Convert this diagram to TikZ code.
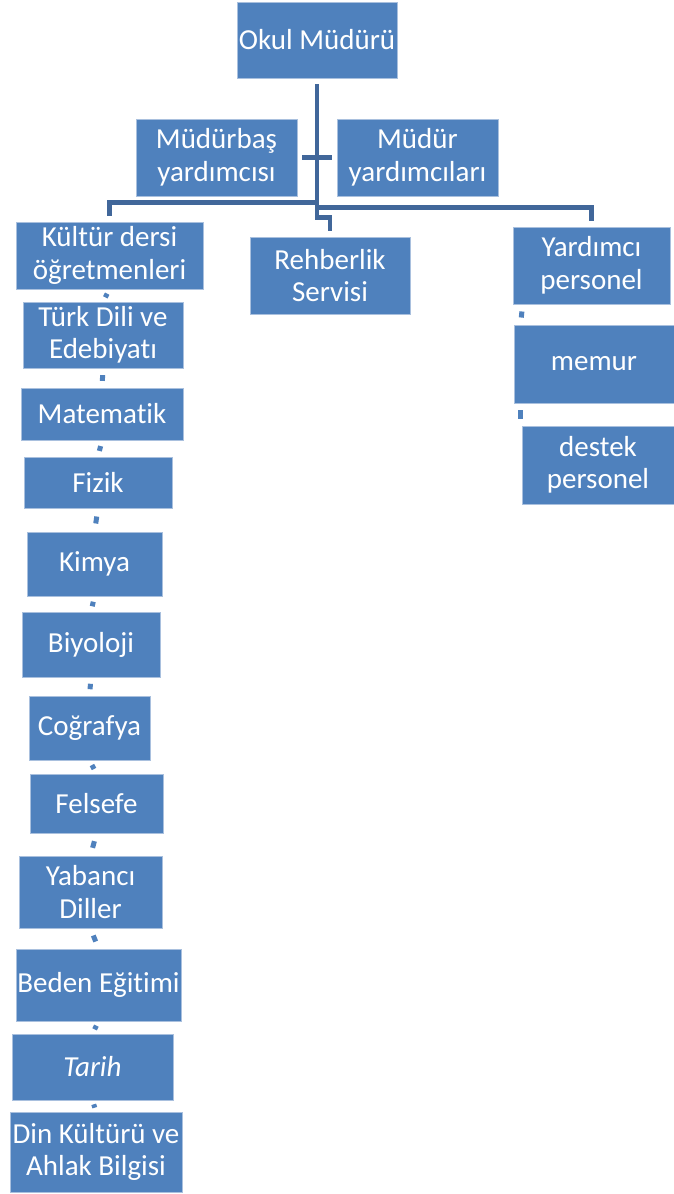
\documentclass[tikz,border=0pt]{standalone}
\usepackage{fontspec}
\setmainfont{Carlito}[Ligatures=NoCommon]
\usetikzlibrary{calc}
\definecolor{boxblue}{HTML}{4F81BD}
\definecolor{lineblue}{HTML}{41679A}
\definecolor{rimblue}{HTML}{A9C0DE}

\begin{document}
\begin{tikzpicture}[x=1pt, y=-1pt,
  bx/.style={draw=rimblue, line width=0.8pt, fill=boxblue, text=white,
             align=center, inner sep=1pt, font=\fontsize{29}{32.5}\selectfont},
  conn/.style={draw=lineblue, line width=4.5pt, shorten <=6pt, shorten >=6pt},
  stub/.style={draw=boxblue, line width=5pt}]
\useasboundingbox (0,0) rectangle (674,1194);
\node[bx, minimum width=160pt, minimum height=76pt] (om) at (317,40) {Okul Müdürü};
\node[bx, minimum width=161pt, minimum height=77pt] (mby) at (216.5,157.5) {Müdürbaş\\yardımcısı};
\node[bx, minimum width=161pt, minimum height=77pt] (my) at (417.5,157.5) {Müdür\\yardımcıları};
\node[bx, minimum width=187pt, minimum height=67pt] (kdo) at (109.5,255.5) {Kültür dersi\\öğretmenleri};
\node[bx, minimum width=160pt, minimum height=77pt] (rs) at (330,275.5) {Rehberlik\\Servisi};
\node[bx, minimum width=157pt, minimum height=77pt] (yp) at (591.5,265.5) {Yardımcı\\personel};
\node[bx, minimum width=160pt, minimum height=78pt] (mem) at (594,364) {memur};
\node[bx, minimum width=152pt, minimum height=78pt] (dp) at (598,465) {destek\\personel};
\node[bx, minimum width=160pt, minimum height=66pt] (tde) at (103,335) {Türk Dili ve\\Edebiyatı};
\node[bx, minimum width=162pt, minimum height=52pt] (mat) at (102,414) {Matematik};
\node[bx, minimum width=148pt, minimum height=51pt] (fiz) at (98,482.5) {Fizik};
\node[bx, minimum width=135pt, minimum height=64pt] (kim) at (94.5,564) {Kimya};
\node[bx, minimum width=138pt, minimum height=65pt] (biy) at (91,644.5) {Biyoloji};
\node[bx, minimum width=121pt, minimum height=64pt] (cog) at (89.5,728) {Coğrafya};
\node[bx, minimum width=133pt, minimum height=59pt] (fel) at (96.5,803.5) {Felsefe};
\node[bx, minimum width=143pt, minimum height=72pt] (yab) at (90.5,892) {Yabancı\\Diller};
\node[bx, minimum width=165pt, minimum height=72pt] (bed) at (98.5,985) {Beden Eğitimi};
\node[bx, minimum width=161pt, minimum height=66pt] (tar) at (92.5,1067) {\itshape Tarih};
\node[bx, minimum width=172pt, minimum height=80pt] (din) at (96,1152) {Din Kültürü ve\\Ahlak Bilgisi};
\draw[conn] (om.south) -- ++(0,124) -| (kdo.north);
\draw[conn] (om.south) -- ++(0,129) -| (yp.north);
\draw[conn] (om.south) -- ++(0,139) -| (rs.north);
\draw[conn, shorten <=5pt, shorten >=5pt] (mby.east) -- (my.west);
\foreach \a/\b in {kdo/tde, tde/mat, mat/fiz, fiz/kim, kim/biy, biy/cog,
                   cog/fel, fel/yab, yab/bed, bed/tar, tar/din}
  \draw[stub] ($(\a.south)!.35!(\b.north)$) -- ($(\a.south)!.65!(\b.north)$);
\draw[stub] ($([xshift=10pt]yp.south west)!.35!([xshift=7pt]mem.north west)$)
  -- ($([xshift=10pt]yp.south west)!.65!([xshift=7pt]mem.north west)$);
\draw[stub] ($([xshift=7pt]mem.south west)!.3!([xshift=-1pt]dp.north west)$)
  -- ($([xshift=7pt]mem.south west)!.7!([xshift=-1pt]dp.north west)$);
\end{tikzpicture}
\end{document}
